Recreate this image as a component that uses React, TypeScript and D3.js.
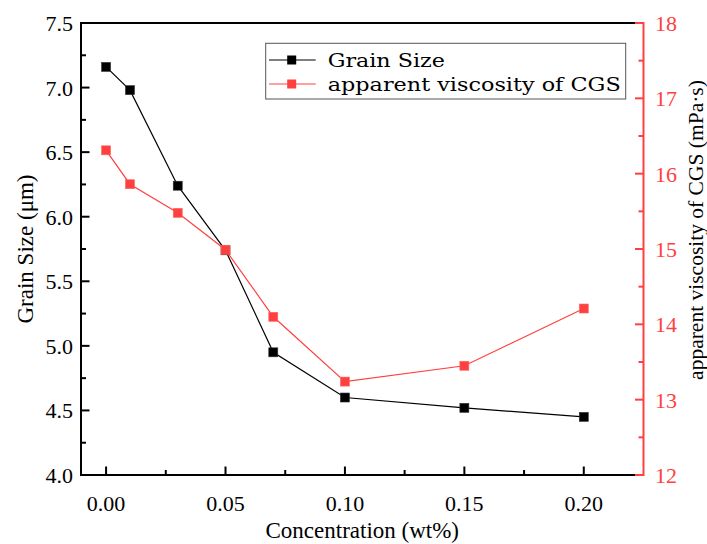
import React from "react";
import * as d3 from "d3";

const concentration = [0, 0.01, 0.03, 0.05, 0.07, 0.1, 0.15, 0.2];
const grainSize = [7.16, 6.98, 6.24, 5.74, 4.95, 4.6, 4.52, 4.45];
const viscosity = [16.31, 15.86, 15.48, 14.99, 14.1, 13.24, 13.45, 14.21];

const xTicks = [0, 0.05, 0.1, 0.15, 0.2];
const xMinor = [0.025, 0.075, 0.125, 0.175];
const leftTicks = [4.0, 4.5, 5.0, 5.5, 6.0, 6.5, 7.0, 7.5];
const leftMinor = [4.25, 4.75, 5.25, 5.75, 6.25, 6.75, 7.25];
const rightTicks = [12, 13, 14, 15, 16, 17, 18];
const rightMinor = [12.5, 13.5, 14.5, 15.5, 16.5, 17.5];

const seriesNames = ["Grain Size", "apparent viscosity of CGS"];
const xTitle = "Concentration (wt%)";
const leftTitle = "Grain Size (\u03bcm)";
const rightTitle = "apparent viscosity of CGS (mPa\u00b7s)";

const RED = "#ff4040";
const SERIF = "'Liberation Serif', 'Times New Roman', serif";
const LEGEND_FONT = "'DejaVu Serif', 'Liberation Serif', serif";

export default function App() {
  const W = 707, H = 544;
  const L = 81, R = 643.5, T = 23, B = 475;
  const x = d3.scaleLinear().domain([-0.0105, 0.225]).range([L, R]);
  const yL = d3.scaleLinear().domain([4.0, 7.5]).range([B, T]);
  const yR = d3.scaleLinear().domain([12, 18]).range([B, T]);

  const lineL = d3.line<number>().x((_, i) => x(concentration[i])).y((d) => yL(d));
  const lineR = d3.line<number>().x((_, i) => x(concentration[i])).y((d) => yR(d));

  const MS = 9;
  const major = 8.5, minor = 5;

  return (
    <svg width={W} height={H} style={{ position: "absolute", left: 0, top: 0, background: "#fff" }}>
      <rect x={0} y={0} width={W} height={H} fill="#fff" />
      <path d={lineL(grainSize) || ""} fill="none" stroke="#000" strokeWidth={1.2} />
      {grainSize.map((d, i) => (
        <rect key={"b" + i} x={x(concentration[i]) - MS / 2} y={yL(d) - MS / 2} width={MS} height={MS} fill="#000" stroke="#333" strokeWidth={0.6} />
      ))}
      <path d={lineR(viscosity) || ""} fill="none" stroke={RED} strokeWidth={1.2} />
      {viscosity.map((d, i) => (
        <rect key={"r" + i} x={x(concentration[i]) - MS / 2} y={yR(d) - MS / 2} width={MS} height={MS} fill={RED} stroke="#f66" strokeWidth={0.6} />
      ))}

      <line x1={L} x2={R} y1={T} y2={T} stroke="#000" strokeWidth={2} />
      <line x1={L} x2={R} y1={B} y2={B} stroke="#000" strokeWidth={2} />
      <line x1={L} x2={L} y1={T - 1} y2={B + 1} stroke="#000" strokeWidth={2} />

      {xTicks.map((t) => (
        <g key={"xt" + t}>
          <line x1={x(t)} x2={x(t)} y1={B} y2={B - major} stroke="#000" strokeWidth={2} />
          <text x={x(t)} y={511} textAnchor="middle" fontFamily={SERIF} fontSize={22} fill="#000">{t.toFixed(2)}</text>
        </g>
      ))}
      {xMinor.map((t) => (
        <line key={"xm" + t} x1={x(t)} x2={x(t)} y1={B} y2={B - minor} stroke="#000" strokeWidth={2} />
      ))}

      {leftTicks.map((t) => (
        <g key={"lt" + t}>
          <line x1={L} x2={L + major} y1={yL(t)} y2={yL(t)} stroke="#000" strokeWidth={2} />
          <text x={73} y={yL(t) + 8} textAnchor="end" fontFamily={SERIF} fontSize={22} fill="#000">{t.toFixed(1)}</text>
        </g>
      ))}
      {leftMinor.map((t) => (
        <line key={"lm" + t} x1={L} x2={L + minor} y1={yL(t)} y2={yL(t)} stroke="#000" strokeWidth={2} />
      ))}

      <line x1={R} x2={R} y1={T - 1} y2={B + 1} stroke={RED} strokeWidth={2} />
      {rightTicks.map((t) => (
        <g key={"rt" + t}>
          <line x1={R} x2={R - major} y1={yR(t)} y2={yR(t)} stroke={RED} strokeWidth={2} />
          <text x={655} y={yR(t) + 8} textAnchor="start" fontFamily={SERIF} fontSize={22} fill={RED}>{String(t)}</text>
        </g>
      ))}
      {rightMinor.map((t) => (
        <line key={"rm" + t} x1={R} x2={R - minor} y1={yR(t)} y2={yR(t)} stroke={RED} strokeWidth={2} />
      ))}

      <text x={(L + R) / 2} y={538} textAnchor="middle" fontFamily={SERIF} fontSize={23} fill="#000">{xTitle}</text>
      <text transform={`translate(33, ${(T + B) / 2}) rotate(-90)`} textAnchor="middle" fontFamily={SERIF} fontSize={23} fill="#000">{leftTitle}</text>
      <text transform={`translate(703, 230) rotate(-90)`} textAnchor="middle" fontFamily={SERIF} fontSize={21.5} fill="#000">{rightTitle}</text>

      <rect x={265.7} y={43.3} width={360} height={55.7} fill="#fff" stroke="#555" strokeWidth={1} />
      {seriesNames.map((name, i) => {
        const cy = 60 + i * 24;
        const c = i === 0 ? "#000" : RED;
        return (
          <g key={"lg" + i}>
            <line x1={269} x2={315.7} y1={cy} y2={cy} stroke={c} strokeWidth={1.2} />
            <rect x={291.7 - MS / 2} y={cy - MS / 2} width={MS} height={MS} fill={c} />
            <text x={327.7} y={cy + 7} fontFamily={LEGEND_FONT} fontSize={19} fill="#000" textLength={name.length * 11.72} lengthAdjust="spacingAndGlyphs">{name}</text>
          </g>
        );
      })}
    </svg>
  );
}
